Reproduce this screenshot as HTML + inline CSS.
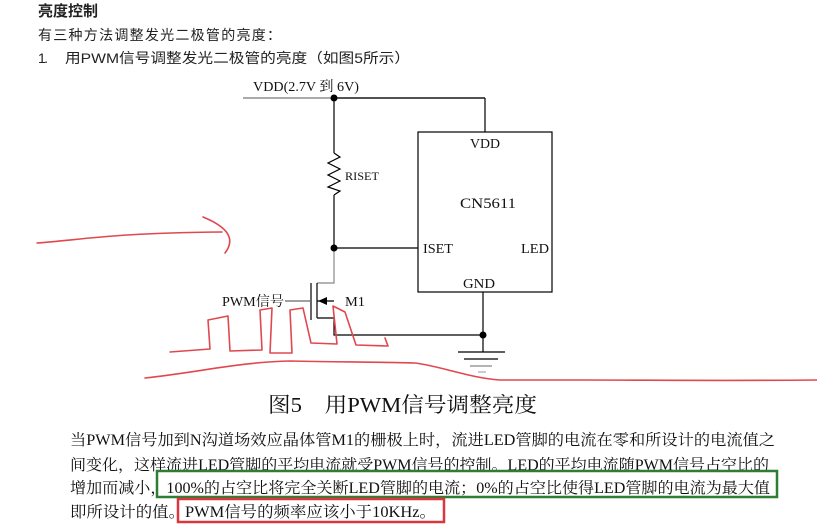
<!DOCTYPE html>
<html><head><meta charset="utf-8"><style>
html,body{margin:0;padding:0;background:#fff;}
svg{display:block;}
.t{font-family:"Liberation Serif","Noto Serif CJK SC",serif;fill:#111;}
.s{font-family:"Liberation Sans","Noto Sans CJK SC",sans-serif;fill:#222;}
</style></head><body>
<svg width="817" height="530" viewBox="0 0 817 530" xmlns="http://www.w3.org/2000/svg">
<text class="s" x="38" y="16" font-size="15" font-weight="bold" textLength="60">亮度控制</text>
<text class="s" x="38" y="40" font-size="14" textLength="243">有三种方法调整发光二极管的亮度：</text>
<text class="s" x="38" y="63" font-size="14" textLength="10">1.</text>
<text class="s" x="65" y="63" font-size="14" textLength="345" lengthAdjust="spacingAndGlyphs">用PWM信号调整发光二极管的亮度（如图5所示）</text>

<g stroke="#000" stroke-width="1.2" fill="none">
<line x1="243" y1="98" x2="485" y2="98" stroke="#777"/>
<line x1="334" y1="98" x2="485" y2="98"/>
<line x1="485" y1="98" x2="485" y2="132"/>
<rect x="418" y="132" width="134" height="160"/>
<line x1="334" y1="98" x2="334" y2="153"/>
<polyline points="334,153 340,157 328,163 340,169 328,175 340,181 328,187 340,191 334,195"/>
<line x1="334" y1="195" x2="334" y2="248"/>
<line x1="334" y1="248" x2="418" y2="248"/>
<polyline points="334,248 334,283 317,283" stroke="#888"/>
<line x1="311" y1="283" x2="311" y2="320"/>
<line x1="317" y1="283" x2="317" y2="318"/>
<line x1="285" y1="301" x2="311" y2="301" stroke="#666"/>
<line x1="317" y1="301" x2="334" y2="301"/>
<polyline points="317,318 334,318 334,335 483,335"/>
<line x1="483" y1="292" x2="483" y2="352"/>
<line x1="458" y1="352" x2="505" y2="352"/>
<line x1="464" y1="359" x2="498" y2="359"/>
<line x1="470" y1="366" x2="492" y2="366" stroke="#888"/>
<line x1="478" y1="372" x2="486" y2="372" stroke="#aaa"/>
</g>
<polygon points="318,301 327,297 327,305" fill="#000"/>
<circle cx="334" cy="98" r="3.5" fill="#000"/>
<circle cx="334" cy="248" r="3.5" fill="#000"/>
<circle cx="483" cy="335" r="3.5" fill="#000"/>

<text class="t" x="253" y="91" font-size="14" textLength="106" lengthAdjust="spacingAndGlyphs">VDD(2.7V 到 6V)</text>
<text class="t" x="345" y="180" font-size="12" textLength="34" lengthAdjust="spacingAndGlyphs">RISET</text>
<text class="t" x="470" y="148" font-size="14" textLength="30" lengthAdjust="spacingAndGlyphs">VDD</text>
<text class="t" x="460" y="208" font-size="15" textLength="56" lengthAdjust="spacingAndGlyphs">CN5611</text>
<text class="t" x="423" y="253" font-size="14" textLength="30" lengthAdjust="spacingAndGlyphs">ISET</text>
<text class="t" x="521" y="253" font-size="14" textLength="28" lengthAdjust="spacingAndGlyphs">LED</text>
<text class="t" x="463" y="288" font-size="14" textLength="32" lengthAdjust="spacingAndGlyphs">GND</text>
<text class="t" x="222" y="306" font-size="14" textLength="62" lengthAdjust="spacingAndGlyphs">PWM信号</text>
<text class="t" x="345" y="306" font-size="14" textLength="20" lengthAdjust="spacingAndGlyphs">M1</text>

<g stroke="#e0484f" stroke-width="1.6" fill="none" stroke-linecap="round" stroke-linejoin="round">
<path d="M37,243 C80,240 110,233 222,232"/>
<path d="M203,217 C230,228 235,240 225,253"/>
<path d="M170,352 L210,349 L208,320 L228,316 L230,351 L262,350 L260,310 L272,308 L270,353 L292,353 L290,310 L303,308 L311,343 L337,344 L333,306 L345,312 L356,345 L388,346 L385,338"/>
<path d="M145,378 C200,372 240,362 290,361 C340,362 380,362 415,363 C440,366 470,378 500,380 L585,380 C650,380 720,381 817,380"/>
</g>

<text class="t" x="268" y="412" font-size="21" textLength="269" lengthAdjust="spacingAndGlyphs">图5　用PWM信号调整亮度</text>

<text class="t" x="70" y="445" font-size="15.5" textLength="705" lengthAdjust="spacingAndGlyphs">当PWM信号加到N沟道场效应晶体管M1的栅极上时，流进LED管脚的电流在零和所设计的电流值之</text>
<text class="t" x="70" y="470" font-size="15.5" textLength="699" lengthAdjust="spacingAndGlyphs">间变化，这样流进LED管脚的平均电流就受PWM信号的控制。LED的平均电流随PWM信号占空比的</text>
<text class="t" x="70" y="493" font-size="15.5" textLength="700" lengthAdjust="spacingAndGlyphs">增加而减小，100%的占空比将完全关断LED管脚的电流；0%的占空比使得LED管脚的电流为最大值</text>
<text class="t" x="70" y="517" font-size="15.5" textLength="366" lengthAdjust="spacingAndGlyphs">即所设计的值。PWM信号的频率应该小于10KHz。</text>

<rect x="157" y="471" width="620" height="26" fill="none" stroke="#2e7d32" stroke-width="2.5"/>
<rect x="178" y="499" width="266" height="23" fill="none" stroke="#d9363e" stroke-width="2.5"/>
</svg>
</body></html>
